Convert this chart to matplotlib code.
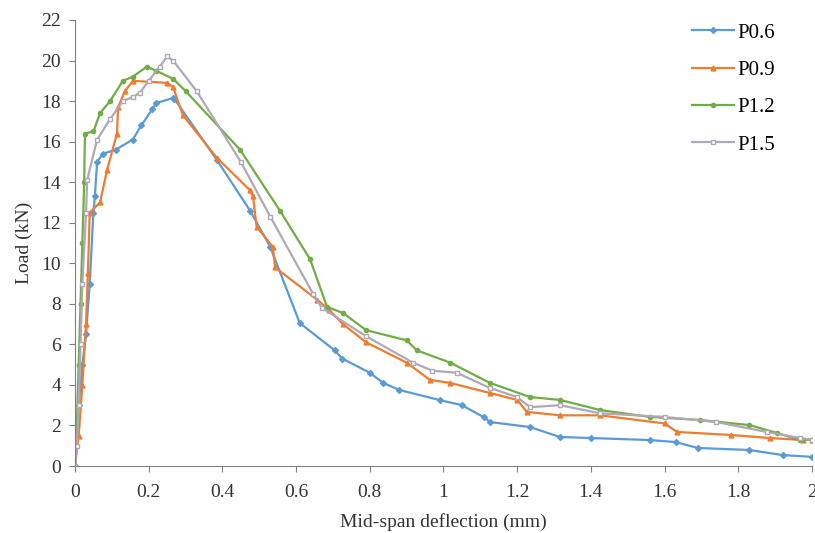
import matplotlib
matplotlib.use("Agg")
import matplotlib.pyplot as plt

# load-deflection curves
x_p06 = [0, 0.005, 0.01, 0.02, 0.03, 0.04, 0.05, 0.054, 0.06, 0.076, 0.11, 0.157, 0.18, 0.21, 0.22, 0.266, 0.27,
         0.385, 0.475, 0.53, 0.61, 0.705, 0.725, 0.8, 0.836, 0.88, 0.99, 1.05, 1.11, 1.126, 1.235, 1.316, 1.4,
         1.56, 1.63, 1.69, 1.83, 1.92, 2.0]
y_p06 = [0, 1.5, 3, 5, 6.5, 9, 12.5, 13.3, 15, 15.4, 15.6, 16.1, 16.8, 17.6, 17.9, 18.15, 18.1,
         15.1, 12.6, 10.8, 7.05, 5.7, 5.3, 4.6, 4.1, 3.75, 3.25, 3.0, 2.4, 2.17, 1.92, 1.43, 1.38,
         1.28, 1.18, 0.89, 0.79, 0.54, 0.45]

x_p09 = [0, 0.01, 0.02, 0.03, 0.035, 0.04, 0.068, 0.087, 0.114, 0.117, 0.136, 0.157, 0.25, 0.266, 0.293,
         0.385, 0.475, 0.483, 0.493, 0.537, 0.543, 0.657, 0.69, 0.727, 0.79, 0.9, 0.963, 1.018, 1.126, 1.2,
         1.226, 1.316, 1.425, 1.6, 1.634, 1.78, 1.886, 1.975, 2.0]
y_p09 = [0, 1.5, 4, 7, 9.5, 12.5, 13, 14.6, 16.4, 17.7, 18.5, 19.0, 18.9, 18.7, 17.3,
         15.2, 13.6, 13.3, 11.8, 10.8, 9.8, 8.2, 7.7, 7.0, 6.1, 5.1, 4.25, 4.1, 3.6, 3.26,
         2.67, 2.5, 2.5, 2.1, 1.68, 1.53, 1.38, 1.28, 1.3]

x_p12 = [0, 0.005, 0.01, 0.015, 0.02, 0.025, 0.027, 0.05, 0.068, 0.095, 0.13, 0.157, 0.195, 0.22, 0.266, 0.3,
         0.448, 0.556, 0.638, 0.684, 0.727, 0.79, 0.9, 0.928, 1.018, 1.126, 1.235, 1.316, 1.425, 1.56, 1.696,
         1.83, 1.905, 1.967, 2.0]
y_p12 = [0, 2, 5, 8, 11, 14, 16.4, 16.5, 17.4, 18.0, 19.0, 19.2, 19.7, 19.5, 19.1, 18.5,
         15.6, 12.6, 10.2, 7.85, 7.55, 6.7, 6.2, 5.7, 5.1, 4.1, 3.4, 3.26, 2.76, 2.42, 2.27,
         2.02, 1.63, 1.28, 1.3]

x_p15 = [0, 0.005, 0.01, 0.015, 0.02, 0.03, 0.033, 0.06, 0.095, 0.13, 0.157, 0.176, 0.2, 0.23, 0.25, 0.266,
         0.33, 0.45, 0.53, 0.646, 0.67, 0.79, 0.917, 0.97, 1.036, 1.126, 1.2, 1.235, 1.316, 1.425, 1.6, 1.74,
         1.877, 1.967, 2.0]
y_p15 = [0, 1, 3, 6, 9, 12.5, 14.1, 16.1, 17.1, 18.0, 18.2, 18.4, 19.0, 19.7, 20.2, 20.0,
         18.5, 15.0, 12.3, 8.5, 7.8, 6.4, 5.1, 4.7, 4.6, 3.85, 3.4, 2.9, 3.0, 2.6, 2.42, 2.17,
         1.68, 1.38, 1.3]

plt.rcParams["font.family"] = ["Liberation Serif", "DejaVu Serif"]

fig = plt.figure(figsize=(8.15, 5.33), dpi=100)
ax = fig.add_axes([0.092, 0.1257, 0.9043, 0.8368])

ax.plot(x_p06, y_p06, color="#5B9BD5", lw=1.6, marker="D", ms=3, label="P0.6")
ax.plot(x_p09, y_p09, color="#ED7D31", lw=1.6, marker="^", ms=3.5, label="P0.9")
ax.plot(x_p12, y_p12, color="#70AD47", lw=1.6, marker="o", ms=3, label="P1.2")
ax.plot(x_p15, y_p15, color="#B0A8B8", lw=1.6, marker="s", ms=3.5, mfc="white", label="P1.5")

ax.set_xlim(0, 2)
ax.set_ylim(0, 22)
ax.set_xticks([0, 0.2, 0.4, 0.6, 0.8, 1, 1.2, 1.4, 1.6, 1.8, 2])
ax.set_xticklabels(["0", "0.2", "0.4", "0.6", "0.8", "1", "1.2", "1.4", "1.6", "1.8", "2"])
ax.set_yticks(range(0, 23, 2))
ax.spines["top"].set_visible(False)
ax.spines["right"].set_visible(False)
ax.spines["left"].set_color("#808080")
ax.spines["bottom"].set_color("#808080")
ax.tick_params(colors="#808080", labelcolor="#333333", labelsize=14, length=4)
ax.tick_params(axis="x", pad=9)
ax.tick_params(axis="y", pad=6)

ax.set_xlabel("Mid-span deflection (mm)", fontsize=14, color="#333333", labelpad=9)
ax.set_ylabel("Load (kN)", fontsize=14, color="#333333", labelpad=6)

ax.legend(loc="upper right", bbox_to_anchor=(0.975, 1.035), frameon=False, fontsize=15,
          labelspacing=0.85, handlelength=2.0, handletextpad=0.15)

plt.savefig("out.png", dpi=100)
